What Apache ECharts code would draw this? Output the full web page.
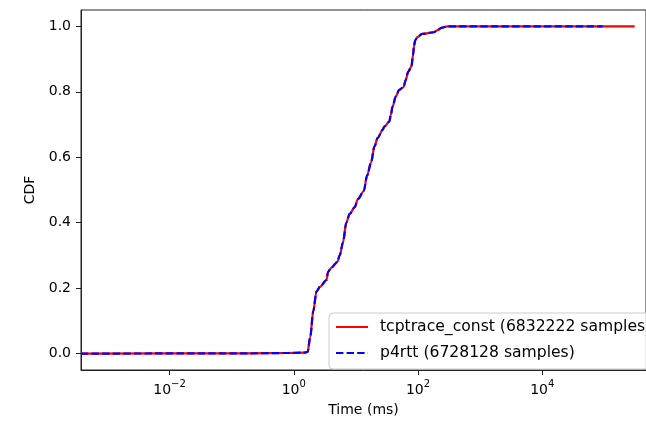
<!DOCTYPE html>
<html>
<head>
<meta charset="utf-8">
<script src="https://cdn.jsdelivr.net/npm/echarts@6/dist/echarts.min.js"></script>
<style>html,body{margin:0;padding:0;background:#fff;}#c{width:646px;height:422px;}</style>
</head>
<body>
<div id="c"></div>
<script>
// Time (ms) and CDF values
const timeMs = [0.000376, 0.19, 0.82, 1.43, 1.67, 1.84, 2.06, 2.32, 2.66, 3.36, 3.57, 3.99, 5.03, 5.49, 6.20, 7.0, 7.93, 9.53, 10.8, 13.4, 15.1, 17.5, 19.9, 22.4, 27.0, 28.7, 34.5, 36.6, 38.9, 44.0, 49.8, 58.3, 63.4, 69.3, 78.2, 83.2, 86.3, 90.6, 97.5, 117, 180, 203, 244, 294];
const cdfValues = [0.0, 0.001, 0.002, 0.003, 0.005, 0.05, 0.13, 0.19, 0.205, 0.225, 0.25, 0.262, 0.28, 0.30, 0.34, 0.40, 0.427, 0.447, 0.472, 0.497, 0.543, 0.583, 0.633, 0.659, 0.684, 0.694, 0.709, 0.73, 0.755, 0.786, 0.806, 0.814, 0.836, 0.861, 0.877, 0.912, 0.942, 0.958, 0.967, 0.977, 0.982, 0.988, 0.996, 1.0];
const tcptraceEndMs = 307600;
const p4rttEndMs = 94000;
const seriesNames = ['tcptrace_const (6832222 samples)', 'p4rtt (6728128 samples)'];
const xTickExps = [-2, 0, 2, 4];
const yTicks = [0.0, 0.2, 0.4, 0.6, 0.8, 1.0];

const toPts = (xs, ys) => xs.map((t, i) => [Math.log10(t), ys[i]]);
const tcpData = toPts(timeMs.concat([tcptraceEndMs]), cdfValues.concat([1.0]));
const p4Data = toPts(timeMs.concat([p4rttEndMs]), cdfValues.concat([1.0]));

const FONT = 'DejaVu Sans';
const chart = echarts.init(document.getElementById('c'), null, {renderer: 'canvas'});
chart.setOption({
  animation: false,
  backgroundColor: '#fff',
  textStyle: {fontFamily: FONT},
  grid: {left: 81, top: 10, right: -5, bottom: 49, show: true, borderColor: '#222', borderWidth: 1, backgroundColor: 'transparent'},
  xAxis: {
    type: 'value', min: -3.425, max: 5.67,
    name: 'Time (ms)', nameLocation: 'middle', nameGap: 33,
    nameTextStyle: {color: '#000', fontSize: 14, fontFamily: FONT},
    axisLine: {show: true, onZero: false, lineStyle: {color: '#222', width: 1}},
    axisTick: {show: true, inside: false, length: 5, lineStyle: {color: '#222'}, customValues: xTickExps},
    splitLine: {show: false},
    axisLabel: {
      customValues: xTickExps, margin: 7, color: '#000',
      formatter: v => '{b|10}{s|' + (v < 0 ? '\u2212' + (-v) : v) + '}',
      rich: {
        b: {fontSize: 14, fontFamily: FONT, color: '#000', padding: [6, 0, 0, 0]},
        s: {fontSize: 10, fontFamily: FONT, color: '#000', padding: [0, 0, 6, 0]}
      }
    }
  },
  yAxis: {
    type: 'value', min: -0.05, max: 1.05,
    name: 'CDF', nameLocation: 'middle', nameGap: 43,
    nameTextStyle: {color: '#000', fontSize: 14, fontFamily: FONT},
    axisLine: {show: true, onZero: false, lineStyle: {color: '#222', width: 1}},
    axisTick: {show: true, inside: false, length: 5, lineStyle: {color: '#222'}, customValues: yTicks},
    splitLine: {show: false},
    axisLabel: {customValues: yTicks, margin: 10, color: '#000', fontSize: 14, fontFamily: FONT, formatter: v => v.toFixed(1)}
  },
  legend: {
    orient: 'vertical', left: 329, top: 313,
    padding: [6, 6, 8, 6], itemGap: 10, itemWidth: 32, itemHeight: 14,
    borderColor: '#ccc', borderWidth: 1, borderRadius: 4, backgroundColor: 'rgba(255,255,255,0.8)',
    itemStyle: {opacity: 0},
    textStyle: {color: '#000', fontSize: 15.6, fontFamily: FONT, padding: [0, 0, 0, 7]},
    data: seriesNames.map(n => ({name: n}))
  },
  series: [
    {name: seriesNames[0], type: 'line', data: tcpData, showSymbol: false, symbol: 'none', smooth: 0.3, smoothMonotone: 'x',
     lineStyle: {color: '#ff0000', width: 2.2}, itemStyle: {color: '#ff0000'}, z: 2},
    {name: seriesNames[1], type: 'line', data: p4Data, showSymbol: false, symbol: 'none', smooth: 0.3, smoothMonotone: 'x',
     lineStyle: {color: '#0000ff', width: 2.2, type: [7.4, 3.2]}, itemStyle: {color: '#0000ff'}, z: 3}
  ]
});
</script>
</body>
</html>
